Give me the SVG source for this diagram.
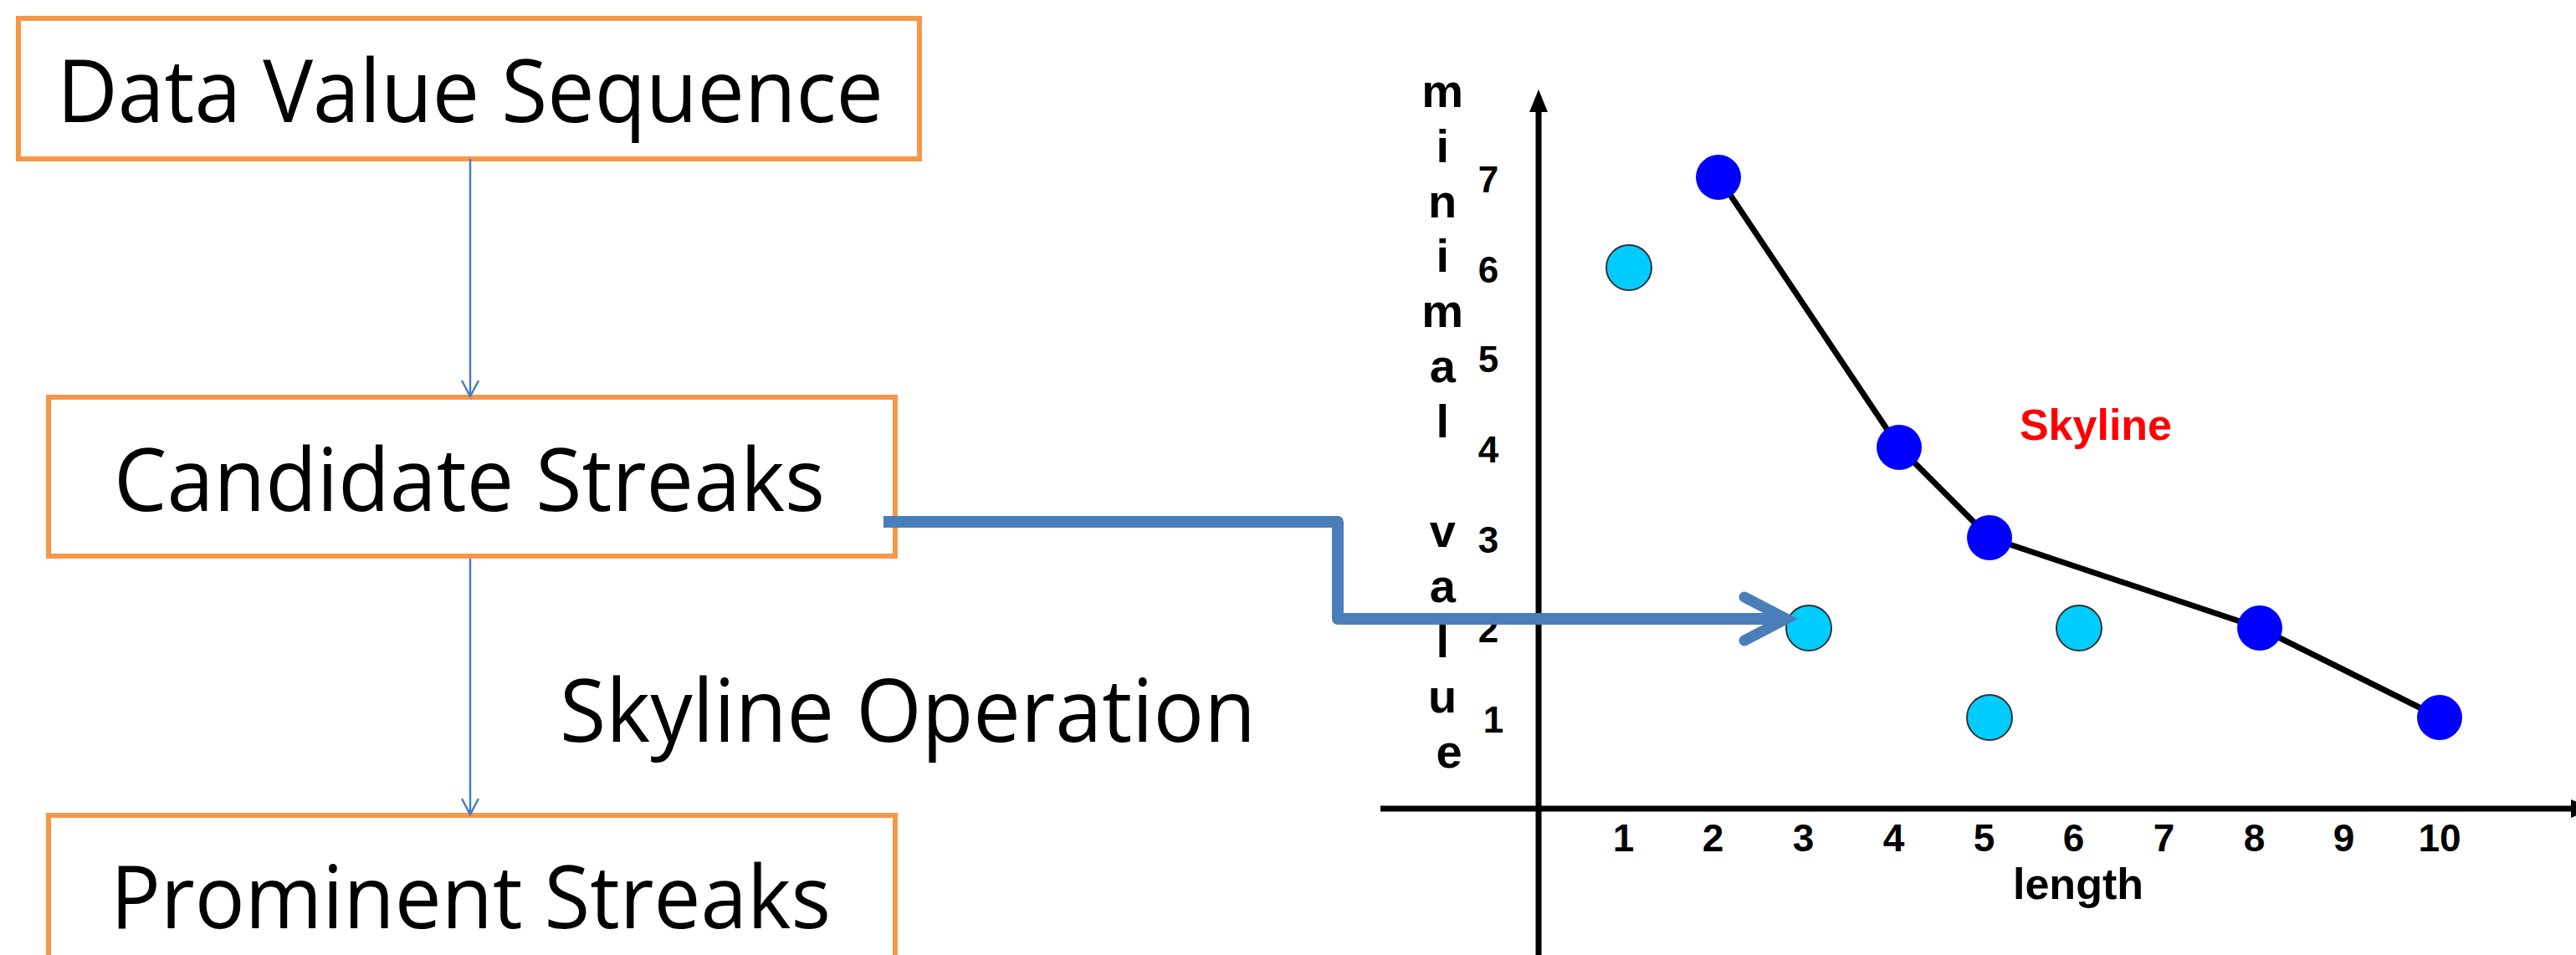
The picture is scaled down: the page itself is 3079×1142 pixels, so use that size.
<svg xmlns="http://www.w3.org/2000/svg" width="3079" height="1142" viewBox="0 0 3079 1142">
<style>
.box{fill:#fff;stroke:#F79646;stroke-width:6}
.big{font-family:"Open Sans","Liberation Sans",sans-serif;font-size:105px;fill:#000}
.thin{fill:none;stroke:#4A7EBB;stroke-width:2.5}
.thick{fill:none;stroke:#4A7EBB;stroke-width:14;stroke-linejoin:round;stroke-linecap:butt}
.ax{stroke:#000;stroke-width:7;fill:none}
.lbl{font-family:"Liberation Sans",Arial,sans-serif;font-weight:bold;fill:#000}
.sky{fill:#0000FF}
.cand{fill:#00CCFF;stroke:#333;stroke-width:2}
</style>
<rect width="3079" height="1142" fill="#fff"/>
<g id="node-data-value-sequence">
<rect class="box" x="22" y="22" width="1077" height="168"/>
<text class="big" x="68" y="146" textLength="988" lengthAdjust="spacingAndGlyphs">Data Value Sequence</text>
</g>
<g id="node-candidate-streaks">
<rect class="box" x="58" y="475" width="1012" height="190"/>
<text class="big" x="136" y="611" textLength="850" lengthAdjust="spacingAndGlyphs">Candidate Streaks</text>
</g>
<g id="node-prominent-streaks">
<rect class="box" x="58" y="975" width="1012" height="200"/>
<text class="big" x="132" y="1110" textLength="861" lengthAdjust="spacingAndGlyphs">Prominent Streaks</text>
</g>
<g id="label-skyline-operation">
<text class="big" x="669" y="887" textLength="832" lengthAdjust="spacingAndGlyphs">Skyline Operation</text>
</g>
<g id="chart">
<line class="ax" x1="1839" y1="1142" x2="1839" y2="128"/>
<path d="M1839,107 L1828,134 L1850,134 Z" fill="#000"/>
<line class="ax" x1="1650" y1="967" x2="3076" y2="967"/>
<path d="M3100,967 L3073,956 L3073,978 Z" fill="#000"/>
<text class="lbl" font-size="56" text-anchor="middle">
<tspan x="1732" y="128">m</tspan>
<tspan x="1732" y="194">i</tspan>
<tspan x="1732" y="260">n</tspan>
<tspan x="1732" y="325">i</tspan>
<tspan x="1732" y="391">m</tspan>
<tspan x="1732" y="457">a</tspan>
<tspan x="1732" y="523">l</tspan>
<tspan x="1732" y="654">v</tspan>
<tspan x="1732" y="720">a</tspan>
<tspan x="1732" y="786">l</tspan>
<tspan x="1732" y="852">u</tspan>
<tspan x="1732" y="918">e</tspan>
</text>
<text class="lbl" font-size="44" text-anchor="middle">
<tspan x="1785" y="230">7</tspan>
<tspan x="1785" y="338">6</tspan>
<tspan x="1785" y="445">5</tspan>
<tspan x="1785" y="553">4</tspan>
<tspan x="1785" y="661">3</tspan>
<tspan x="1785" y="768">2</tspan>
<tspan x="1785" y="876">1</tspan>
</text>
<text class="lbl" font-size="46" text-anchor="middle">
<tspan x="1947" y="1018">1</tspan>
<tspan x="2054" y="1018">2</tspan>
<tspan x="2162" y="1018">3</tspan>
<tspan x="2270" y="1018">4</tspan>
<tspan x="2378" y="1018">5</tspan>
<tspan x="2485" y="1018">6</tspan>
<tspan x="2593" y="1018">7</tspan>
<tspan x="2701" y="1018">8</tspan>
<tspan x="2808" y="1018">9</tspan>
<tspan x="2916" y="1018">10</tspan>
</text>
<text class="lbl" font-size="52" text-anchor="middle" x="2484" y="1075">length</text>
<text class="lbl" font-size="52" text-anchor="middle" x="2505" y="526" style="fill:#FF0000">Skyline</text>
<polyline points="2054,212 2270,535 2378,643 2701,751 2916,858" fill="none" stroke="#000" stroke-width="7" stroke-linejoin="round"/>
<circle class="cand" cx="1947" cy="320" r="27"/>
<circle class="cand" cx="2162" cy="751" r="27"/>
<circle class="cand" cx="2378" cy="858" r="27"/>
<circle class="cand" cx="2485" cy="751" r="27"/>
<circle class="sky" cx="2054" cy="212" r="27"/>
<circle class="sky" cx="2270" cy="535" r="27"/>
<circle class="sky" cx="2378" cy="643" r="27"/>
<circle class="sky" cx="2701" cy="751" r="27"/>
<circle class="sky" cx="2916" cy="858" r="27"/>
</g>
<g id="connectors">
<path class="thin" d="M562,190 V472"/>
<path class="thin" d="M552,455 L562,474 L572,455"/>
<path class="thin" d="M562,668 V972"/>
<path class="thin" d="M552,955 L562,974 L572,955"/>
<path class="thick" d="M1056,624 H1599 V740 H2133"/>
<path d="M2085,714 L2135,740 L2085,766" fill="none" stroke="#4A7EBB" stroke-width="13" stroke-linecap="round" stroke-linejoin="miter"/>
</g>
</svg>
